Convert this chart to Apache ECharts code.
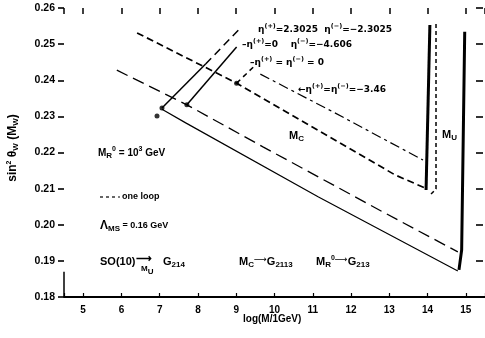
<!DOCTYPE html>
<html>
<head>
<meta charset="utf-8">
<script src="https://cdn.jsdelivr.net/npm/echarts@6/dist/echarts.min.js"></script>
<style>
  html, body { margin: 0; padding: 0; background: #fff; }
  #chart { width: 485px; height: 338px; }
</style>
</head>
<body>
<div id="chart"></div>
<script>
// values: [log10(M/1GeV), sin^2 theta_W]
const mcDashed = [[6.41, 0.2531], [9.01, 0.2392], [10.44, 0.2304], [13.15, 0.2138], [13.93, 0.2102]];
const mcDashDot = [[9.63, 0.2417], [11.59, 0.2309], [13.88, 0.2179]];
const mcLongDash = [[5.88, 0.2428], [7.71, 0.2332], [9.71, 0.2215], [12.84, 0.2035], [14.79, 0.1925]];
const mcSolid = [[7.06, 0.2320], [7.68, 0.2282], [11.15, 0.2077], [14.79, 0.1872]];

const muFirst = [[13.96, 0.2096], [14.06, 0.2553]];
const muOneLoop = [[14.09, 0.2085], [14.22, 0.2099], [14.22, 0.2559]];
const muSecond = [[14.82, 0.1875], [14.89, 0.1930], [14.97, 0.2534]];

const riseASolid = [[7.06, 0.2323], [8.20, 0.2445]];
const riseADash = [[8.20, 0.2445], [9.14, 0.2548]];
const riseB = [[7.71, 0.2332], [9.01, 0.2492]];
const riseC = [[9.01, 0.2392], [9.53, 0.2445]];
const startDots = [[7.06, 0.2323], [7.71, 0.2332], [9.01, 0.2392], [6.93, 0.2301]];

const axisStub = [[4.5, 0.18], [4.5, 0.187]];

const etaLabels = [
  'η{sp|(+)}=2.3025  η{sp|(−)}=−2.3025',
  '–η{sp|(+)}=0    η{sp|(−)}=−4.606',
  '–η{sp|(+)} = η{sp|(−)} = 0',
  '←η{sp|(+)}=η{sp|(−)}=−3.46'
];

const FONT = 'Liberation Sans';
const WIDE = 'DejaVu Sans';
const RICH = {
  sb: { fontFamily: FONT, fontWeight: 'bold', fontSize: 8, lineHeight: 8, verticalAlign: 'bottom' },
  sp: { fontFamily: FONT, fontWeight: 'bold', fontSize: 7, lineHeight: 8, verticalAlign: 'top' },
  ar: { fontFamily: WIDE, fontSize: 9, lineHeight: 8, verticalAlign: 'top' },
  wsp: { fontFamily: WIDE, fontWeight: 'bold', fontSize: 6.5, lineHeight: 8, verticalAlign: 'top' },
  big: { fontFamily: FONT, fontWeight: 'bold', fontSize: 12, lineHeight: 14 }
};

function label(x, y, text, size, family) {
  return {
    type: 'text', x: x, y: y, silent: true,
    style: {
      text: text, rich: RICH, fill: '#000', fontFamily: family || FONT, fontWeight: 'bold',
      fontSize: size || 10, lineHeight: 14, align: 'left', verticalAlign: 'middle'
    }
  };
}

function line(name, data, width, dash) {
  return {
    name: name, type: 'line', data: data, showSymbol: false, silent: true,
    lineStyle: { color: '#000', width: width, type: dash || 'solid' }
  };
}

const chart = echarts.init(document.getElementById('chart'));

chart.setOption({
  animation: false,
  backgroundColor: '#fff',
  grid: { left: 64, right: 0, top: 8, bottom: 41, containLabel: false, outerBoundsMode: 'none' },
  xAxis: [
    {
      type: 'value', min: 4.5, max: 15.5, splitNumber: 11,
      axisLine: { lineStyle: { color: '#000', width: 1.8 } },
      axisTick: { inside: true, length: 4, lineStyle: { color: '#000', width: 1.2 } },
      splitLine: { show: false },
      axisLabel: {
        color: '#000', fontFamily: FONT, fontWeight: 'bold', fontSize: 10, margin: 8,
        formatter: function (v) {
          return Math.abs(v - Math.round(v)) < 1e-6 ? String(Math.round(v)) : '';
        }
      }
    },
    {
      type: 'value', position: 'top', min: 4.5, max: 15.5, splitNumber: 11,
      axisLine: { show: false },
      axisTick: { inside: true, length: 6, lineStyle: { color: '#000', width: 1.5 } },
      axisLabel: { show: false },
      splitLine: { show: false }
    }
  ],
  yAxis: [
    {
      type: 'value', min: 0.18, max: 0.26, interval: 0.01,
      axisLine: { show: true, lineStyle: { color: '#000', opacity: 0 } },
      axisTick: { show: true, length: 6, lineStyle: { color: '#000', width: 1.6, opacity: 1 } },
      splitLine: { show: false },
      axisLabel: {
        color: '#000', fontFamily: FONT, fontWeight: 'bold', fontSize: 10.5, margin: 9,
        formatter: function (v) { return v.toFixed(2); }
      }
    },
    {
      type: 'value', position: 'right', offset: -2, min: 0.18, max: 0.26, interval: 0.01,
      axisLine: { show: true, lineStyle: { color: '#000', opacity: 0 } },
      axisTick: { show: true, inside: true, length: 7, lineStyle: { color: '#000', width: 1.6, opacity: 1 } },
      axisLabel: { show: false },
      splitLine: { show: false }
    }
  ],
  series: [
    line('mcDashed', mcDashed, 1.7, [7, 4]),
    line('mcDashDot', mcDashDot, 1.2, [10, 4, 3, 4]),
    line('mcLongDash', mcLongDash, 1.3, [12, 6]),
    line('mcSolid', mcSolid, 1.2),
    line('muFirst', muFirst, 3),
    line('muOneLoop', muOneLoop, 1.5, [4, 3]),
    line('muSecond', muSecond, 3),
    line('riseASolid', riseASolid, 1.5),
    line('riseADash', riseADash, 1.5, [8, 5]),
    line('riseB', riseB, 1.5),
    line('riseC', riseC, 1.5, [5, 4]),
    line('axisStub', axisStub, 1.5),
    {
      name: 'startDots', type: 'scatter', data: startDots, symbolSize: 5, silent: true,
      itemStyle: { color: '#000' }
    }
  ],
  graphic: [
    label(98, 153, 'M{sb|R}{sp|0} = 10{sp|3} GeV', 10),
    {
      type: 'line', silent: true,
      shape: { x1: 100, y1: 197, x2: 120, y2: 197 },
      style: { stroke: '#000', lineWidth: 1.2, lineDash: [3, 3] }
    },
    label(122, 197, 'one loop', 9),
    label(100, 226, '{big|Λ}{sb|MS} = 0.16 GeV', 9),
    label(100, 262, 'SO(10)', 11),
    label(136, 259, '⟶', 11),
    label(141, 269, 'M{sb|U}', 8),
    label(163, 262, 'G{sb|214}', 11),
    label(239, 262, 'M{sb|C}{ar|⟶}G{sb|2113}', 11),
    label(316, 262, 'M{sb|R}{sp|0}{ar|⟶}G{sb|213}', 11),
    label(289, 136, 'M{sb|C}', 11),
    label(442, 135, 'M{sb|U}', 11),
    label(258, 30, etaLabels[0].replace(/sp\|/g, 'wsp|'), 9, WIDE),
    label(242, 45, etaLabels[1].replace(/sp\|/g, 'wsp|'), 9, WIDE),
    label(250, 63, etaLabels[2].replace(/sp\|/g, 'wsp|'), 9, WIDE),
    label(298, 90, etaLabels[3].replace(/sp\|/g, 'wsp|'), 9, WIDE),
    label(243, 319, 'log(M/1GeV)', 10),
    {
      type: 'text', x: 13, y: 148, rotation: Math.PI / 2, silent: true,
      style: {
        text: 'sin{sp|2} θ{sb|W} (M{sb|W})', rich: RICH, fill: '#000', fontFamily: FONT,
        fontWeight: 'bold', fontSize: 12, lineHeight: 14, align: 'center', verticalAlign: 'middle'
      }
    }
  ]
});
</script>
</body>
</html>
